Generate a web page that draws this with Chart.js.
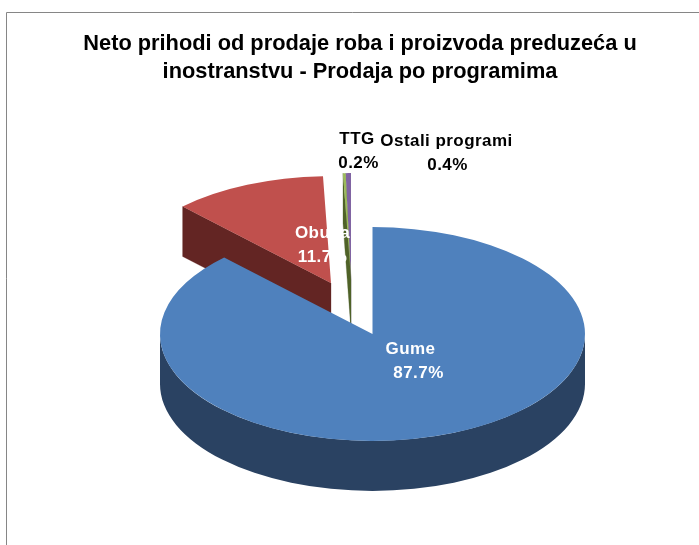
<!DOCTYPE html>
<html><head><meta charset="utf-8">
<style>html,body{margin:0;padding:0;background:#fff;overflow:hidden}canvas{display:block}</style>
<script src="https://cdn.jsdelivr.net/npm/chart.js@4"></script>
</head><body>
<div style="width:699px;height:545px;position:relative"><canvas id="c" width="699" height="545"></canvas></div>
<script>
const titleLines = ['Neto prihodi od prodaje roba i proizvoda preduzeća u', 'inostranstvu - Prodaja po programima'];
const categories = ['Gume', 'Obuća', 'TTG', 'Ostali programi'];
const values = [87.7, 11.7, 0.2, 0.4];
const valueLabels = ['87.7%', '11.7%', '0.2%', '0.4%'];
const topColors = ['#4F81BD', '#C0504D', '#9BBB59', '#8064A2'];
const sideColors = ['#2A4262', '#632523', '#4F6228', '#403152'];

const squash = 0.503, depth = 50;
const centre = {x: 372.5, y: 334};
const shifts = [[0, 0], [-41.5, -51], [-21.5, -54], [-21.5, -54]];
const labelOffsets = [[38, 15], [-50, -101], [-15.5, -195], [74, -193]];
const valueShiftX = [8, 0, 1.5, 1];
const labelColors = ['#fff', '#fff', '#000', '#000'];
const paintOrder = [1, 3, 2, 0];

const pie3d = {
  id: 'pie3d',
  beforeDraw(chart) {
    const c = chart.ctx;
    c.save();
    c.strokeStyle = '#868686'; c.lineWidth = 1;
    c.beginPath(); c.moveTo(6.5, 545); c.lineTo(6.5, 12.5); c.lineTo(699, 12.5); c.stroke();
    c.restore();
  },
  beforeDatasetsDraw(chart) {
    const c = chart.ctx, arcs = chart.getDatasetMeta(0).data;
    const norm = a => { const t = Math.PI * 2; return ((a % t) + t) % t; };
    paintOrder.forEach(i => {
      const arc = arcs[i];
      const r = arc.outerRadius, ry = r * squash;
      const cx = centre.x + shifts[i][0], cy = centre.y + shifts[i][1];
      const a0 = arc.startAngle, a1 = arc.endAngle;
      c.save();
      c.fillStyle = sideColors[i]; c.strokeStyle = sideColors[i]; c.lineWidth = 0.3;
      const face = (ang) => {
        const ox = cx + r * Math.cos(ang), oy = cy + ry * Math.sin(ang);
        c.beginPath(); c.moveTo(cx, cy); c.lineTo(ox, oy); c.lineTo(ox, oy + depth); c.lineTo(cx, cy + depth);
        c.closePath(); c.fill(); c.stroke();
      };
      if (Math.sin(a0 - Math.PI / 2) > 0.001) face(a0);
      if (Math.sin(a1 + Math.PI / 2) > 0.001) face(a1);
      const n0 = norm(a0), span = a1 - a0;
      const from = n0 < Math.PI ? n0 : (n0 + span > Math.PI * 2 ? 0 : null);
      if (from !== null) {
        const base = n0 < Math.PI ? n0 : n0 - Math.PI * 2;
        const to = Math.min(base + span, Math.PI);
        if (to > from) {
          c.beginPath();
          c.ellipse(cx, cy, r, ry, 0, from, to);
          c.ellipse(cx, cy + depth, r, ry, 0, to, from, true);
          c.closePath(); c.fill();
        }
      }
      c.restore();
      c.save();
      c.translate(cx, cy); c.scale(1, squash); c.translate(-arc.x, -arc.y);
      arc.draw(c);
      c.restore();
    });
    return false;
  },
  afterDraw(chart) {
    const c = chart.ctx;
    c.save();
    c.font = 'bold 17px "Liberation Sans"';
    c.letterSpacing = '0.45px';
    c.textAlign = 'center'; c.textBaseline = 'middle';
    categories.forEach((name, i) => {
      const x = centre.x + labelOffsets[i][0], y = centre.y + labelOffsets[i][1];
      c.fillStyle = labelColors[i];
      c.fillText(name, x, y);
      c.fillText(valueLabels[i], x + valueShiftX[i], y + 24);
    });
    c.restore();
  }
};

new Chart(document.getElementById('c'), {
  type: 'pie',
  data: {labels: categories, datasets: [{data: values, backgroundColor: topColors, borderWidth: 0, radius: 212.5}]},
  plugins: [pie3d],
  options: {
    responsive: false, animation: false,
    layout: {padding: {left: 21}},
    plugins: {
      legend: {display: false}, tooltip: {enabled: false},
      title: {display: true, text: titleLines, fullSize: false, color: '#000',
        font: {family: '"Liberation Sans"', size: 21.8, weight: 'bold', lineHeight: 1.33},
        padding: {top: 29, bottom: 10}}
    }
  }
});
</script>
</body></html>
